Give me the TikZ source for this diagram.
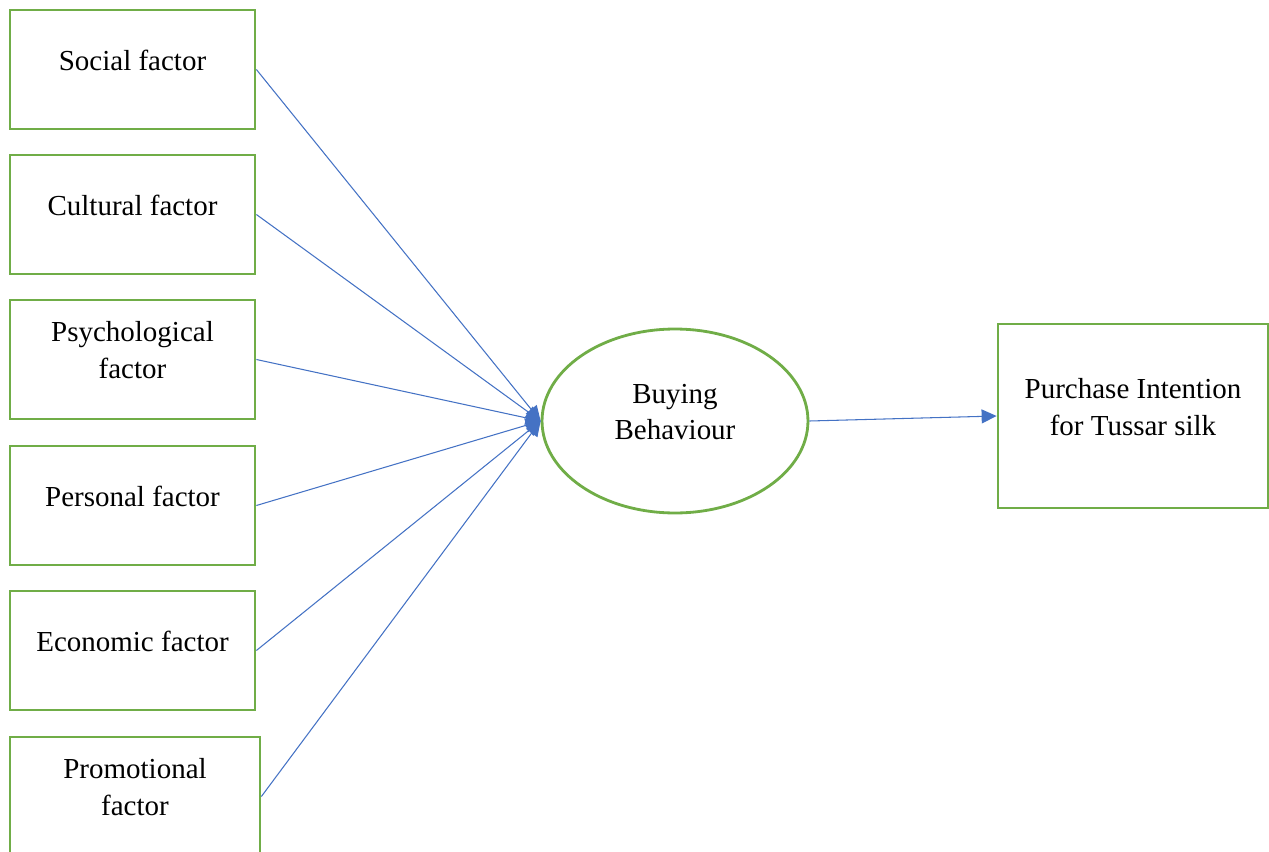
\documentclass[tikz,border=0pt]{standalone}
\usepackage{fontspec}
\setmainfont{Liberation Serif}
\usetikzlibrary{shapes.geometric,arrows.meta}

\definecolor{boxgreen}{RGB}{112,173,71}
\definecolor{linkblue}{RGB}{68,114,196}

\tikzset{
  factorbox/.style={draw=boxgreen, line width=1.6pt, minimum width=4.9cm, minimum height=2.38cm, inner sep=0pt},
  factortext/.style={align=center, font=\fontsize{16.5pt}{21pt}\selectfont, yshift=0.18cm},
  link/.style={draw=linkblue, line width=0.6pt, -{Triangle[length=0.3cm,width=0.28cm]}}
}

\begin{document}
\begin{tikzpicture}[x=0.02cm,y=-0.02cm]
\useasboundingbox (0,0) rectangle (1269,852);

% Factor boxes
\foreach \i/\yy/\txt in {1/69.5/Social factor, 2/214.5/Cultural factor,
    3/359.5/{Psychological\\factor}, 4/505.5/Personal factor, 5/650.5/Economic factor}
  \node[factorbox, label={[factortext]center:\txt}] (f\i) at (132.5,\yy) {};
\node[factorbox, minimum width=5cm, label={[factortext]center:Promotional\\factor}] (f6) at (135,796.5) {};

% Buying behaviour
\node[draw=boxgreen, line width=1.6pt, ellipse, minimum width=5.32cm, minimum height=3.68cm, inner sep=0pt,
      label={[factortext]center:Buying\\Behaviour}] (bb) at (675,421) {};

% Purchase intention
\node[factorbox, minimum width=5.4cm, minimum height=3.68cm,
      label={[factortext]center:Purchase Intention\\for Tussar silk}] (pi) at (1133,416) {};

% Links
\foreach \i in {1,...,6}
  \draw[link] (f\i.east) -- (bb.west);
\draw[link] (bb.east) -- (pi.west);

\end{tikzpicture}
\end{document}
